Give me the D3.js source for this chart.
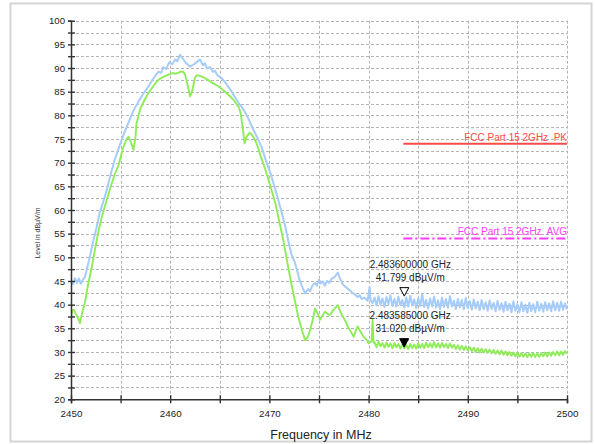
<!DOCTYPE html>
<html><head><meta charset="utf-8">
<script src="https://cdn.jsdelivr.net/npm/d3@7"></script>
<style>
html,body{margin:0;padding:0;background:#fff;}
svg{display:block;font-family:"Liberation Sans",Arial,sans-serif;}
</style></head>
<body><svg id="c" width="595" height="444"></svg>
<script>
// ---- data ----
const xTickValues = [2450,2455,2460,2465,2470,2475,2480,2485,2490,2495,2500];
const xTickLabels = [2450,2460,2470,2480,2490,2500];
const yTickLabels = [20,25,30,35,40,45,50,55,60,65,70,75,80,85,90,95,100];

const peakFreq = [2450.0,2450.2,2450.4,2450.6,2450.8,2451.0,2451.2,2451.4,2451.6,2451.9,2452.2,2452.6,2452.9,2453.1,2453.4,2453.6,2454.0,2454.4,2454.8,2455.1,2455.5,2455.9,2456.3,2456.8,2457.3,2457.8,2458.3,2458.8,2459.1,2459.3,2459.6,2459.9,2460.2,2460.5,2460.7,2461.0,2461.3,2461.6,2462.0,2462.4,2462.7,2463.0,2463.3,2463.5,2463.7,2464.0,2464.3,2464.5,2464.8,2465.1,2465.5,2465.9,2466.2,2466.5,2466.9,2467.2,2467.5,2467.9,2468.4,2468.8,2469.2,2469.6,2470.1,2470.5,2470.9,2471.3,2471.6,2471.9,2472.2,2472.6,2473.0,2473.3,2473.6,2473.9,2474.1,2474.3,2474.6,2474.8,2475.0,2475.2,2475.4,2475.6,2475.8,2476.0,2476.3,2476.6,2476.9,2477.1,2477.4,2477.7,2478.0,2478.3,2478.6,2478.9,2479.1,2479.3,2479.6,2479.9,2480.1,2480.2,2480.4,
2480.6,2480.8,2481.0,2481.2,2481.4,2481.6,2481.8,2482.0,2482.2,2482.4,2482.6,2482.8,2483.0,2483.2,2483.4,2483.6,2483.8,2484.0,2484.2,2484.4,2484.6,2484.8,2485.0,2485.2,2485.4,2485.6,2485.8,2486.0,2486.2,2486.4,2486.6,2486.8,2487.0,2487.2,2487.4,2487.6,2487.8,2488.0,2488.2,2488.4,2488.6,2488.8,2489.0,2489.2,2489.4,2489.6,2489.8,2490.0,2490.2,2490.4,2490.6,2490.8,2491.0,2491.2,2491.4,2491.6,2491.8,2492.0,2492.2,2492.4,2492.6,2492.8,2493.0,2493.2,2493.4,2493.6,2493.8,2494.0,2494.2,2494.4,2494.6,2494.8,2495.0,2495.2,2495.4,2495.6,2495.8,2496.0,2496.2,2496.4,2496.6,2496.8,2497.0,2497.2,2497.4,2497.6,2497.8,2498.0,2498.2,2498.4,2498.6,2498.8,2499.0,2499.2,2499.4,2499.6,2499.8,2500.0];
const peakLevel = [45.0,44.3,45.6,44.6,45.5,44.4,45.3,45.8,47.5,50.1,53.0,56.5,59.5,60.7,62.8,64.2,67.5,70.6,73.0,74.8,77.0,79.0,81.0,82.9,84.6,86.1,87.8,89.2,89.0,90.2,89.8,91.2,90.8,91.8,91.4,92.8,91.9,91.0,90.3,90.8,91.3,91.8,90.6,91.0,89.9,90.2,89.2,89.4,88.4,88.0,87.1,85.9,85.0,83.9,82.6,81.8,80.8,79.2,76.9,75.2,73.4,70.8,67.8,65.0,62.1,59.0,56.5,53.5,50.8,48.7,45.5,43.8,42.4,43.3,42.8,43.9,44.6,44.0,45.3,44.5,44.9,44.0,45.0,44.6,45.5,45.9,46.8,45.6,44.3,43.7,43.2,42.6,42.2,41.6,42.0,41.2,41.5,40.8,43.7,41.0,40.3,
41.5,39.8,41.8,40.0,41.3,39.5,41.6,40.1,42.0,39.7,41.2,39.6,41.7,39.9,41.0,39.4,41.5,39.6,41.9,39.8,41.1,39.3,41.4,39.7,42.2,39.5,41.0,39.2,41.3,39.6,41.7,39.4,40.9,39.1,41.5,39.5,41.2,39.3,41.8,39.6,40.8,39.1,41.2,39.4,41.0,39.0,41.4,39.3,40.7,38.9,41.1,39.2,40.6,38.8,41.0,39.0,40.5,38.7,40.9,39.1,40.4,38.6,40.8,38.9,40.3,38.5,40.6,38.8,40.2,38.4,40.7,38.7,40.1,38.4,40.5,38.6,40.0,38.3,40.4,38.6,40.1,38.4,40.6,38.7,40.2,38.5,40.5,38.8,40.3,38.6,40.7,38.8,40.4,38.7,40.6,38.9,40.3,39.0];

const avgFreq = [2450.0,2450.15,2450.3,2450.5,2450.7,2450.9,2451.1,2451.4,2451.7,2452.1,2452.4,2452.8,2453.1,2453.4,2453.7,2454.1,2454.4,2454.8,2455.1,2455.3,2455.6,2455.8,2456.0,2456.3,2456.5,2456.6,2457.0,2457.4,2457.8,2458.3,2458.8,2459.2,2459.6,2460.2,2460.6,2461.0,2461.3,2461.5,2461.8,2462.0,2462.2,2462.5,2462.7,2463.2,2463.8,2464.3,2464.9,2465.4,2465.9,2466.4,2466.9,2467.1,2467.3,2467.5,2467.7,2468.0,2468.2,2468.5,2468.7,2469.1,2469.6,2470.1,2470.6,2471.0,2471.4,2471.8,2472.2,2472.6,2472.9,2473.3,2473.6,2473.9,2474.1,2474.4,2474.6,2474.9,2475.1,2475.4,2475.6,2475.9,2476.1,2476.5,2476.9,2477.1,2477.4,2477.7,2477.9,2478.2,2478.5,2478.7,2478.9,2479.2,2479.5,2479.8,2480.0,2480.3,2480.4,2480.5,
2480.6,2480.8,2481.0,2481.2,2481.4,2481.6,2481.8,2482.0,2482.2,2482.4,2482.6,2482.8,2483.0,2483.2,2483.4,2483.6,2483.8,2484.0,2484.2,2484.4,2484.6,2484.8,2485.0,2485.2,2485.4,2485.6,2485.8,2486.0,2486.2,2486.4,2486.6,2486.8,2487.0,2487.2,2487.4,2487.6,2487.8,2488.0,2488.2,2488.4,2488.6,2488.8,2489.0,2489.2,2489.4,2489.6,2489.8,2490.0,2490.2,2490.4,2490.6,2490.8,2491.0,2491.2,2491.4,2491.6,2491.8,2492.0,2492.2,2492.4,2492.6,2492.8,2493.0,2493.2,2493.4,2493.6,2493.8,2494.0,2494.2,2494.4,2494.6,2494.8,2495.0,2495.2,2495.4,2495.6,2495.8,2496.0,2496.2,2496.4,2496.6,2496.8,2497.0,2497.2,2497.4,2497.6,2497.8,2498.0,2498.2,2498.4,2498.6,2498.8,2499.0,2499.2,2499.4,2499.6,2499.8,2500.0];
const avgLevel = [37.5,38.8,38.9,38.0,37.2,36.1,38.0,40.4,44.0,48.0,51.5,55.8,58.5,60.7,62.8,65.6,67.5,69.5,72.0,73.4,75.0,75.5,74.5,72.7,75.5,78.3,81.5,83.2,84.7,86.2,87.5,88.0,88.4,88.9,88.8,89.2,89.2,88.6,86.0,84.0,85.0,88.0,88.5,88.2,87.5,86.8,86.1,85.2,84.3,83.2,81.8,80.5,77.5,74.1,75.5,76.3,76.0,75.0,74.1,71.5,68.5,65.0,61.4,57.5,53.7,49.0,44.5,40.5,37.5,34.5,32.5,33.3,34.6,37.0,39.2,38.0,36.8,37.8,38.5,38.0,37.8,39.0,39.9,38.8,37.5,36.4,35.4,34.3,33.2,34.5,35.4,34.2,33.2,32.6,31.8,32.3,36.8,32.0,
32.1,31.0,32.2,31.2,31.9,30.9,32.0,31.1,31.8,30.8,31.9,31.0,31.7,30.7,31.6,30.8,31.5,30.6,31.7,30.8,31.6,30.7,31.8,30.9,31.7,30.8,32.0,31.0,31.8,30.9,32.1,31.0,31.8,30.9,31.9,31.0,31.7,30.8,31.8,30.9,31.5,30.6,31.4,30.5,31.3,30.4,31.2,30.3,31.0,30.2,30.9,30.0,30.8,29.9,30.7,29.9,30.6,29.8,30.5,29.7,30.4,29.6,30.3,29.5,30.3,29.4,30.1,29.3,30.0,29.2,29.9,29.1,29.9,29.0,29.8,29.0,29.7,28.9,29.7,29.0,29.8,28.9,29.7,29.0,29.8,29.1,29.9,29.1,29.9,29.2,30.0,29.3,30.1,29.3,30.1,29.4,30.2,29.6];

const limitNames = ["FCC Part 15 2GHz  PK","FCC Part 15 2GHz  AVG"];
const limitStart = [2483.5,2483.5];
const limitEnd = [2500,2500];
const limitLevel = [74,54];

const markerFreqGHz = ["2.483600000 GHz","2.483585000 GHz"];
const markerValueText = ["41.799 dBµV/m","31.020 dBµV/m"];
const markerFreq = [2483.6,2483.585];
const markerLevel = [41.799,31.020];

// ---- drawing ----
const svg = d3.select("#c");
const L=71, R=567, T=20.7, B=399.3;
const x = d3.scaleLinear().domain([2450,2500]).range([L,R]);
const y = d3.scaleLinear().domain([20,100]).range([B,T]);

svg.append("rect").attr("x",0).attr("y",0).attr("width",595).attr("height",444).attr("fill","#fff");
svg.append("rect").attr("x",10.5).attr("y",3.5).attr("width",581).attr("height",438)
  .attr("fill","none").attr("stroke","#d4d4d4").attr("stroke-width",2);

// grid
const gy = d3.range(22.5,100.01,2.5);
svg.append("g").selectAll("line").data(gy).join("line")
  .attr("x1",L).attr("x2",R).attr("y1",d=>Math.round(y(d))+0.5).attr("y2",d=>Math.round(y(d))+0.5)
  .attr("stroke","#b4b4b4").attr("stroke-dasharray","3,2").attr("stroke-width",1);
svg.append("g").selectAll("line").data(xTickValues.filter(d=>d>2450)).join("line")
  .attr("x1",d=>Math.round(x(d))+0.5).attr("x2",d=>Math.round(x(d))+0.5).attr("y1",T).attr("y2",B)
  .attr("stroke","#b4b4b4").attr("stroke-dasharray","3,2").attr("stroke-width",1);

// traces
svg.append("clipPath").attr("id","pc").append("rect").attr("x",L).attr("y",T).attr("width",R-L).attr("height",B-T);
const line = d3.line().x(d=>x(d[0])).y(d=>y(d[1]));
svg.append("path").attr("clip-path","url(#pc)")
  .attr("d",line(peakFreq.map((f,i)=>[f,peakLevel[i]])))
  .attr("fill","none").attr("stroke","#a6ccfa").attr("stroke-width",2).attr("stroke-linejoin","round");
svg.append("path").attr("clip-path","url(#pc)")
  .attr("d",line(avgFreq.map((f,i)=>[f,avgLevel[i]])))
  .attr("fill","none").attr("stroke","#8eec58").attr("stroke-width",1.9).attr("stroke-linejoin","round");

// limit lines
const limColors = ["#ff4a4a","#ff3cff"];
const limDash = [null,"9,3,2,3"];
limitNames.forEach((n,i)=>{
  svg.append("line").attr("x1",x(limitStart[i])).attr("x2",x(limitEnd[i]))
    .attr("y1",y(limitLevel[i])).attr("y2",y(limitLevel[i]))
    .attr("stroke",limColors[i]).attr("stroke-width",2).attr("stroke-dasharray",limDash[i]);
  svg.append("text").attr("x",R).attr("y",y(limitLevel[i])-3).attr("text-anchor","end")
    .attr("font-size",10).attr("fill",limColors[i]).style("white-space","pre").text(n);
});

// axes
const yAxis = d3.axisLeft(y).tickValues(d3.range(20,100.01,2.5))
  .tickFormat(d=>yTickLabels.includes(d)?String(d):"").tickSize(3).tickPadding(3);
const ga = svg.append("g").attr("transform",`translate(${L},0)`).call(yAxis);
ga.select(".domain").attr("stroke","#333").attr("stroke-width",1.5);
ga.selectAll(".tick line").attr("x1",-3).attr("x2",4).attr("stroke","#333").attr("stroke-width",1.4);
ga.selectAll(".tick text").attr("font-size",9.6).attr("fill","#222").attr("font-family","Liberation Sans, Arial, sans-serif");

const xAxis = d3.axisBottom(x).tickValues(xTickValues)
  .tickFormat(d=>xTickLabels.includes(d)?String(d):"").tickSize(4).tickPadding(7);
const gx = svg.append("g").attr("transform",`translate(0,${B})`).call(xAxis);
gx.select(".domain").attr("stroke","#333").attr("stroke-width",1.5);
gx.selectAll(".tick line").attr("y1",-4).attr("y2",4).attr("stroke","#333").attr("stroke-width",1.4);
gx.selectAll(".tick text").attr("font-size",9.8).attr("fill","#222").attr("font-family","Liberation Sans, Arial, sans-serif");

// axis titles
svg.append("text").attr("x",(L+R)/2+2).attr("y",438.5).attr("text-anchor","middle")
  .attr("font-size",12.5).attr("fill","#222").text("Frequency in MHz");
svg.append("text").attr("transform","translate(40,233) rotate(-90)").attr("text-anchor","middle")
  .attr("font-size",7).attr("fill","#333").text("Level in dBµV/m");

// markers
const mFill = ["#fff","#000"];
markerFreq.forEach((f,i)=>{
  const px = x(f), py = y(markerLevel[i]);
  svg.append("path").attr("d",`M${px-4.5},${py-8.5}L${px+4.5},${py-8.5}L${px},${py}Z`)
    .attr("fill",mFill[i]).attr("stroke","#000").attr("stroke-width",1);
  svg.append("text").attr("x",px+6).attr("y",py-28).attr("text-anchor","middle")
    .attr("font-size",10).attr("fill","#222").text(markerFreqGHz[i]);
  svg.append("text").attr("x",px+6).attr("y",py-15.5).attr("text-anchor","middle")
    .attr("font-size",10).attr("fill","#222").text(markerValueText[i]);
});
</script></body></html>
